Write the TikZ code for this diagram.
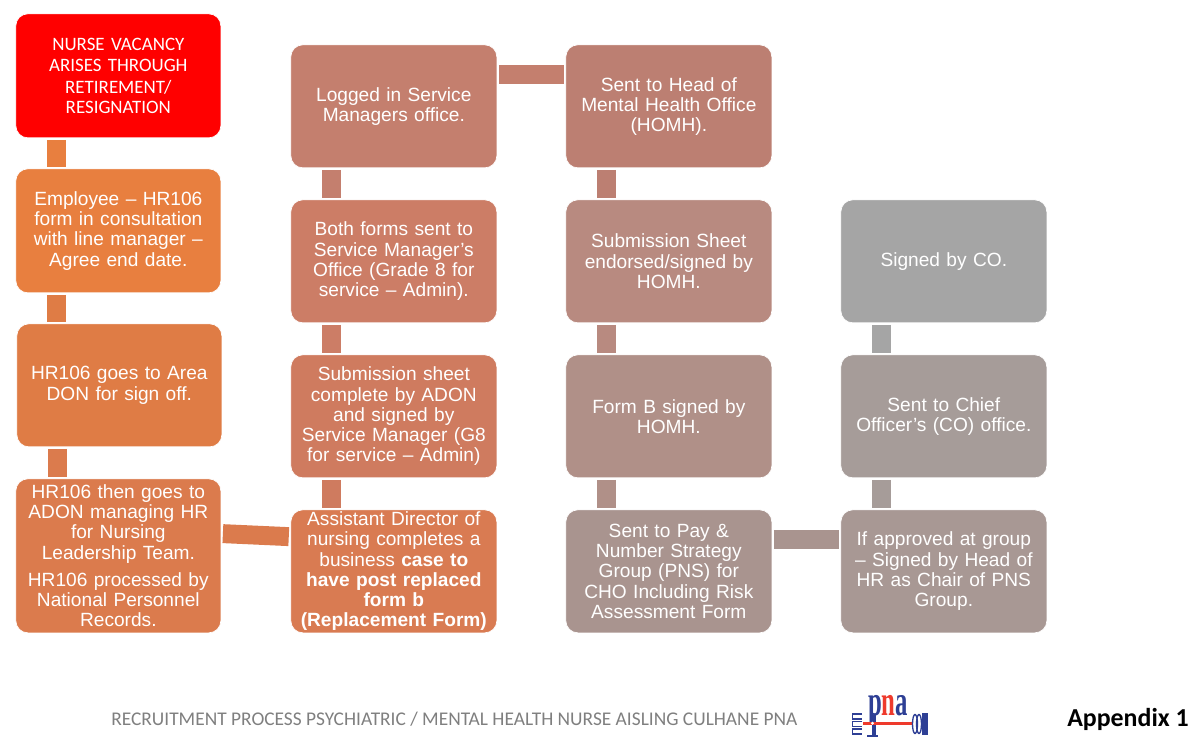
\documentclass[tikz,border=0pt]{standalone}
\usepackage{fontspec}
\setmainfont{Liberation Sans}
\newfontfamily\carl{Carlito}
\newfontfamily\logofont{Liberation Serif}
\usetikzlibrary{calc}
\definecolor{cA}{HTML}{FF0000}
\definecolor{cB}{HTML}{E87F3F}
\definecolor{cC}{HTML}{DF7C45}
\definecolor{cD}{HTML}{DB7B4D}
\definecolor{cE}{HTML}{D97B52}
\definecolor{cF}{HTML}{CF7B5F}
\definecolor{cG}{HTML}{CC7D66}
\definecolor{cH}{HTML}{C47F6E}
\definecolor{cI}{HTML}{BC7F72}
\definecolor{cJ}{HTML}{B88A80}
\definecolor{cK}{HTML}{B09088}
\definecolor{cL}{HTML}{A9948F}
\definecolor{cM}{HTML}{A89894}
\definecolor{cN}{HTML}{A69C99}
\definecolor{cO}{HTML}{A5A5A5}
\definecolor{logoblue}{HTML}{2E3F95}
\definecolor{logored}{HTML}{EE3A2C}
\definecolor{foot}{HTML}{7F7F7F}
\tikzset{
  x=0.75pt,y=-0.75pt,
  stepbox/.style={draw=white,line width=0.5pt,rounded corners=9pt,text width=150pt,inner sep=1pt,align=center,text=white,anchor=north west,font=\fontsize{14.35}{15.2}\selectfont},
  link/.style={line width=14.2pt,line cap=butt,shorten >=1.3pt,shorten <=1.3pt},
}
\newcommand{\vlink}[3]{\coordinate (p#2) at ($(#2.south west)!0.2!(#2.south east)$);\draw[link,#1] (p#2) -- (p#2 |- #3.north);}
\begin{document}
\begin{tikzpicture}
\useasboundingbox (0,0) rectangle (1200,741);
\newcommand{\boxat}[7]{\node[stepbox,fill=#1,minimum width=#5*0.75pt,minimum height=#6*0.75pt+0.75pt] (#2) at (#3-0.5,#4-0.5) {#7};}
\boxat{cA}{a}{16}{14}{205}{123}{\carl\fontsize{14.2}{16}\selectfont NURSE VACANCY\\ARISES THROUGH\\RETIREMENT/\\RESIGNATION}
\boxat{cB}{b}{16}{169}{205}{123}{Employee – HR106\\form in consultation\\with line manager –\\Agree end date.}
\boxat{cC}{c}{17}{324}{205}{122}{HR106 goes to Area\\DON for sign off.}
\boxat{cD}{d}{16}{479}{205}{153}{HR106 then goes to\\ADON managing HR\\for Nursing\\Leadership Team.\\[5.2pt]HR106 processed by\\National Personnel\\Records.}
\boxat{cE}{e}{291}{510}{206}{122}{Assistant Director of\\nursing completes a\\business \textbf{case to}\\\textbf{have post replaced}\\\textbf{form b}\\\textbf{(Replacement Form)}}
\boxat{cF}{f}{291}{355}{206}{122}{Submission sheet\\complete by ADON\\and signed by\\Service Manager (G8\\for service – Admin)}
\boxat{cG}{g}{291}{200}{206}{122}{Both forms sent to\\Service Manager’s\\Office (Grade 8 for\\service – Admin).}
\boxat{cH}{h}{291}{45}{206}{122}{Logged in Service\\Managers office.}
\boxat{cI}{i}{566}{45}{206}{122}{Sent to Head of\\Mental Health Office\\(HOMH).}
\boxat{cJ}{j}{566}{200}{206}{122}{Submission Sheet\\endorsed/signed by\\HOMH.}
\boxat{cK}{k}{566}{355}{206}{122}{Form B signed by\\HOMH.}
\boxat{cL}{l}{566}{510}{206}{122}{Sent to Pay \&\\Number Strategy\\Group (PNS) for\\CHO Including Risk\\Assessment Form}
\boxat{cM}{m}{841}{510}{206}{122}{If approved at group\\– Signed by Head of\\HR as Chair of PNS\\Group.}
\boxat{cN}{n}{841}{355}{206}{122}{Sent to Chief\\Officer’s (CO) office.}
\boxat{cO}{o}{841}{200}{206}{122}{Signed by CO.}
\vlink{cB}{a}{b}
\vlink{cC}{b}{c}
\vlink{cD}{c}{d}
\vlink{cF}{f}{e}
\vlink{cG}{g}{f}
\vlink{cH}{h}{g}
\vlink{cI}{i}{j}
\vlink{cJ}{j}{k}
\vlink{cK}{k}{l}
\vlink{cN}{n}{m}
\vlink{cO}{o}{n}
\draw[link,cD] ($(d.south east)!0.644!(d.north east)$) -- ($(e.south west)!0.78!(e.north west)$);
\draw[link,cH] ($(h.south east)!0.76!(h.north east)$) -- ($(i.south west)!0.76!(i.north west)$);
\draw[link,cL] ($(l.south east)!0.76!(l.north east)$) -- ($(m.south west)!0.76!(m.north west)$);
\node[anchor=base west,inner sep=0pt,text=foot,font=\carl\fontsize{14.55}{16}\selectfont] (ft) at (111,725) {RECRUITMENT PROCESS PSYCHIATRIC / MENTAL HEALTH NURSE AISLING CULHANE PNA};
\node[anchor=base west,inner sep=0pt,font=\carl\bfseries\fontsize{19.4}{22}\selectfont] (ap) at (1067,726) {Appendix 1};
% logo
\node[anchor=base,inner sep=0pt,font=\logofont\bfseries\fontsize{32}{32}\selectfont] (pna) at (888,715) {\scalebox{0.58}[1]{\textcolor{logoblue}{p}\textcolor{logored}{n}\textcolor{logoblue}{a}}};
\fill[logoblue] (872,715) rectangle (876,736);
\fill[logoblue] (867,735) rectangle (878,737);
\fill[logored] (863,722) rectangle (912,724.5);
\fill[white] (872.5,723.2) circle (1.6);
\foreach \yy in {716.5,724,731.5} {\draw[logoblue,line width=1pt] (862,\yy-2.5) -- (852.5,\yy-2.5) -- (852.5,\yy+2.5) -- (862,\yy+2.5);}
\foreach \xx in {915,919} {\draw[logoblue,line width=1pt] (\xx,724) ellipse (2.5 and 9.5);}
\fill[logoblue] (922,713) rectangle (928,735);
\end{tikzpicture}
\end{document}
